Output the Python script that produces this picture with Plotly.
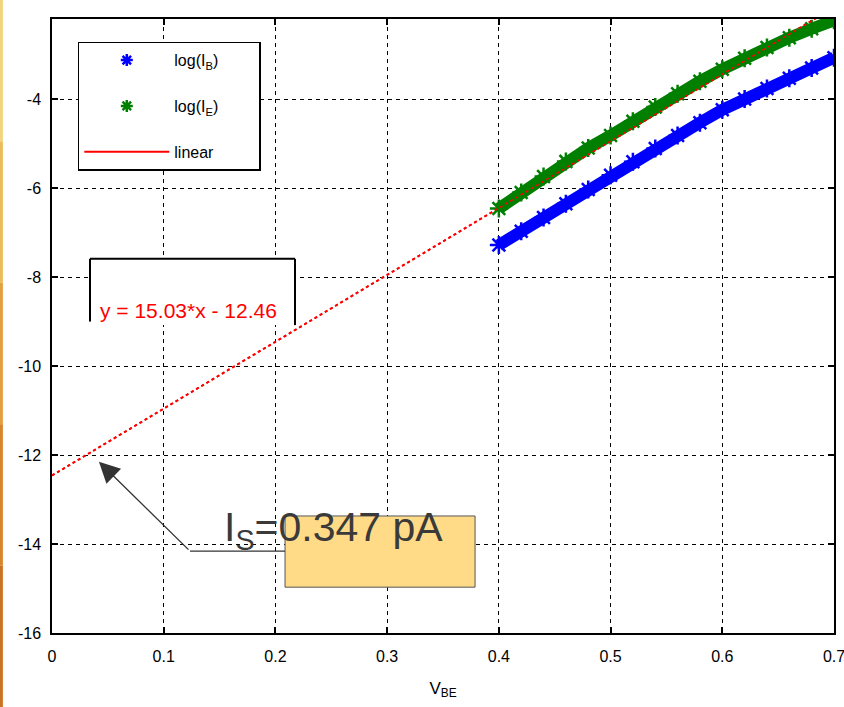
import plotly.graph_objects as go

# Measured base-emitter sweep (log10 of current, A)
v_be = [0.40, 0.42, 0.44, 0.46, 0.48, 0.50, 0.52, 0.54, 0.56, 0.58,
        0.60, 0.62, 0.64, 0.66, 0.68, 0.70]
log_ib = [-7.28, -6.97, -6.66, -6.35, -6.03, -5.71, -5.41, -5.11, -4.82, -4.53,
          -4.24, -4.00, -3.76, -3.53, -3.30, -3.07]
log_ie = [-6.46, -6.10, -5.74, -5.40, -5.10, -4.82, -4.50, -4.18, -3.88, -3.60,
          -3.33, -3.08, -2.84, -2.62, -2.42, -2.23]

# Linear fit of log(I_E): y = slope*x + intercept
fit_slope = 15.03
fit_intercept = -12.46
fit_x = [0.0, 0.7]
fit_label = "y = 15.03*x - 12.46"
is_label = "I<sub>S</sub>=0.347 pA"

x_ticks = [0, 0.1, 0.2, 0.3, 0.4, 0.5, 0.6, 0.7]
x_tick_text = ["0", "0.1", "0.2", "0.3", "0.4", "0.5", "0.6", "0.7"]
y_ticks = [-16, -14, -12, -10, -8, -6, -4]
y_tick_text = ["-16", "-14", "-12", "-10", "-8", "-6", "-4"]

BLUE = "#0000FF"
GREEN = "#007F00"
RED = "#FF0000"
FONT = "Liberation Sans"
PAD = "\u00a0" * 8  # keeps the legend box wide

fit_y = [fit_slope * x + fit_intercept for x in fit_x]

fig = go.Figure()

# fitted line (dotted)
fig.add_trace(go.Scatter(
    x=fit_x, y=fit_y, mode="lines",
    line=dict(color=RED, width=2, dash="dot"),
    showlegend=False, hoverinfo="skip"))

# measured bands
for ys, col in ((log_ib, BLUE), (log_ie, GREEN)):
    fig.add_trace(go.Scatter(
        x=v_be, y=ys, mode="lines+markers",
        line=dict(color=col, width=12),
        marker=dict(symbol="asterisk-open", size=15, color=col,
                    line=dict(color=col, width=2.5)),
        showlegend=False))

# redraw fit on top of the green band
fig.add_trace(go.Scatter(
    x=fit_x, y=fit_y, mode="lines",
    line=dict(color=RED, width=1.6, dash="dot"),
    showlegend=False, hoverinfo="skip"))

# legend entries
fig.add_trace(go.Scatter(
    x=[None], y=[None], mode="markers", name="log(I<sub>B</sub>)" + PAD,
    legendgroup="a",
    marker=dict(symbol="asterisk-open", size=10, color=BLUE,
                line=dict(color=BLUE, width=2.5))))
fig.add_trace(go.Scatter(
    x=[None], y=[None], mode="markers", name="log(I<sub>E</sub>)",
    legendgroup="b",
    marker=dict(symbol="asterisk-open", size=10, color=GREEN,
                line=dict(color=GREEN, width=2.5))))
fig.add_trace(go.Scatter(
    x=[None], y=[None], mode="lines", name="linear",
    legendgroup="c",
    line=dict(color=RED, width=2)))

shapes = []
# equation box (top, left and right edges over a white patch)
bx0, bx1, by_top, by_bot = 0.034, 0.2175, -7.59, -9.08
shapes.append(dict(type="rect", xref="x", yref="y", x0=bx0, x1=bx1,
                   y0=by_bot, y1=by_top, fillcolor="white",
                   line=dict(width=0), layer="above"))
for (xa, ya, xb, yb) in ((bx0, by_top, bx1, by_top),
                         (bx0, by_top, bx0, -9.0),
                         (bx1, by_top, bx1, by_bot)):
    shapes.append(dict(type="line", xref="x", yref="y", x0=xa, y0=ya,
                       x1=xb, y1=yb, line=dict(color="black", width=2),
                       layer="above"))

# callout box for I_S
shapes.append(dict(type="rect", xref="x", yref="y",
                   x0=0.2086, x1=0.3787, y0=-14.97, y1=-13.37,
                   fillcolor="#FFDB88", line=dict(color="#555555", width=1),
                   layer="above"))
# elbow of the callout leader
shapes.append(dict(type="line", xref="x", yref="y",
                   x0=0.1235, y0=-14.16, x1=0.2086, y1=-14.16,
                   line=dict(color="#333333", width=1.3), layer="above"))

# slide edge strip on the left
strip_cols = ["#F2D47E", "#EDBB5C", "#E3A040", "#D8862C", "#CC7322"]
n = len(strip_cols)
for i, c in enumerate(strip_cols):
    y1 = 1.031 - i * (1.1515 / n)
    y0 = y1 - 1.1515 / n
    shapes.append(dict(type="rect", xref="paper", yref="paper",
                       x0=-0.0665, x1=-0.0628, y0=y0, y1=y1,
                       fillcolor=c, line=dict(width=0), layer="above"))

annotations = [
    dict(x=0.1225, y=-8.76, xref="x", yref="y", text=fit_label,
         showarrow=False, font=dict(family=FONT, size=21, color=RED),
         xanchor="center", yanchor="middle"),
    dict(x=0.042, y=-12.15, xref="x", yref="y", ax=0.1235, ay=-14.16,
         axref="x", ayref="y", text="", showarrow=True,
         arrowhead=2, arrowsize=3.2, arrowwidth=1.3, arrowcolor="#333333"),
    dict(x=0.1522, y=-13.68, xref="x", yref="y", text=is_label,
         showarrow=False, font=dict(family=FONT, size=41, color="#3A3A3A"),
         xanchor="left", yanchor="middle"),
]

axis_common = dict(
    showline=True, linecolor="black", linewidth=1.5, mirror="ticks",
    ticks="inside", ticklen=6, tickwidth=1.5, tickcolor="black",
    showgrid=True, gridcolor="black", gridwidth=1.2, griddash="4px,4px",
    zeroline=False, automargin=False, ticklabeloverflow="allow",
    tickfont=dict(family=FONT, size=16, color="black"),
)

fig.update_layout(
    width=844, height=707,
    margin=dict(l=52, r=10, t=19, b=74),
    paper_bgcolor="white", plot_bgcolor="white",
    xaxis=dict(range=[0, 0.7], tickvals=x_ticks, ticktext=x_tick_text,
               ticklabelstandoff=8,
               title=dict(text="V<sub>BE</sub>", standoff=18,
                          font=dict(family=FONT, size=17, color="black")),
               **axis_common),
    yaxis=dict(range=[-16, -2.2], tickvals=y_ticks, ticktext=y_tick_text,
               ticklabelstandoff=6, **axis_common),
    legend=dict(x=0.033, y=0.963, xanchor="left", yanchor="top",
                bgcolor="white", bordercolor="black", borderwidth=1.5,
                font=dict(family=FONT, size=16, color="black"),
                tracegroupgap=22, itemwidth=85),
    shapes=shapes,
    annotations=annotations,
    showlegend=True,
)

fig.write_html("out.html")
